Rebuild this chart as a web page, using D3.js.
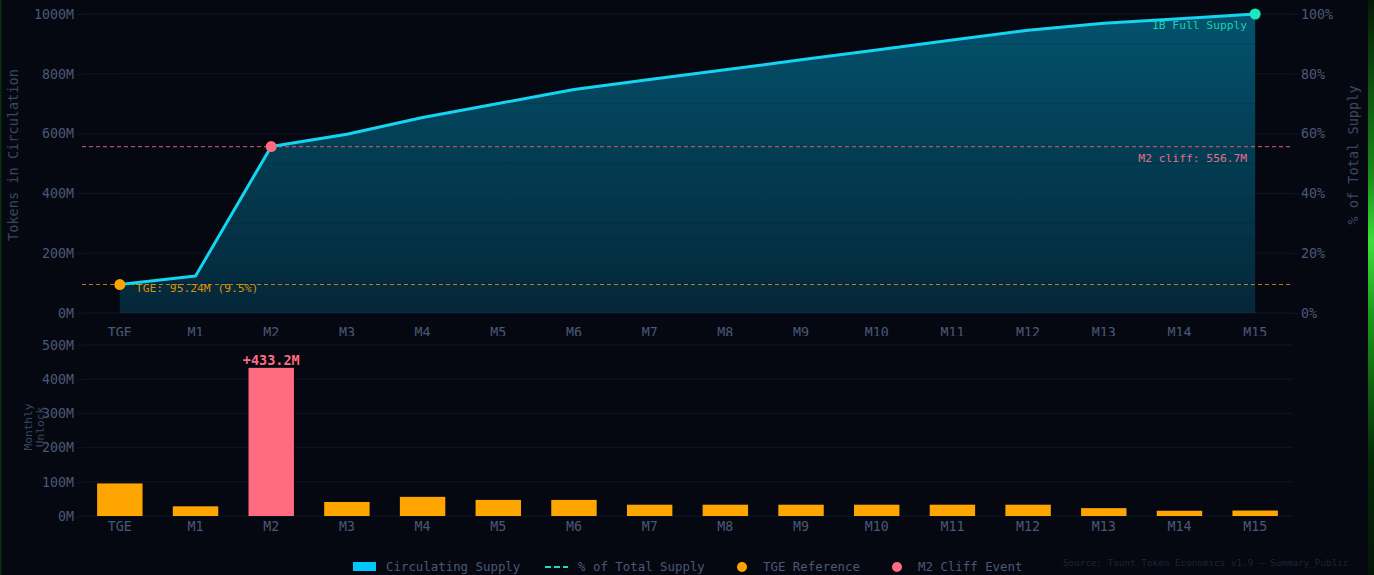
<!DOCTYPE html>
<html><head><meta charset="utf-8">
<script src="https://cdn.jsdelivr.net/npm/d3@7"></script>
<style>
html,body{margin:0;padding:0;background:#050810;overflow:hidden}
svg{display:block}
text{font-family:"DejaVu Sans Mono",monospace}
</style></head>
<body>
<svg id="c" width="1374" height="575"></svg>
<script>
const categories = ["TGE","M1","M2","M3","M4","M5","M6","M7","M8","M9","M10","M11","M12","M13","M14","M15"];
const circulating = [95.24,123.5,556.7,597.7,653.7,700.7,747.7,780.7,813.7,846.7,879.7,912.7,945.7,968.7,984,1000];
const monthlyUnlock = [95.24,28.3,433.2,41,56,47,47,33,33,33,33,33,33,23,15.3,16];
const topTicks = [0,200,400,600,800,1000];
const pctTicks = [0,20,40,60,80,100];
const bottomTicks = [0,100,200,300,400,500];
const totalSupply = 1000;
const tgeValue = 95.24;
const cliffValue = 556.7;

const svg = d3.select("#c");
const W=1374,H=575;
svg.append("rect").attr("width",W).attr("height",H).attr("fill","#050810");

const defs = svg.append("defs");
const ag = defs.append("linearGradient").attr("id","areaG").attr("x1",0).attr("y1",0).attr("x2",0).attr("y2",1);
ag.append("stop").attr("offset","0%").attr("stop-color","#00aee0").attr("stop-opacity",0.45);
ag.append("stop").attr("offset","100%").attr("stop-color","#0096c8").attr("stop-opacity",0.22);
const eg = defs.append("linearGradient").attr("id","edgeG").attr("x1",0).attr("y1",0).attr("x2",0).attr("y2",1);
eg.append("stop").attr("offset","0%").attr("stop-color","#041a06");
eg.append("stop").attr("offset","30%").attr("stop-color","#1a8a1a");
eg.append("stop").attr("offset","42%").attr("stop-color","#3be03b");
eg.append("stop").attr("offset","55%").attr("stop-color","#1a9a1a");
eg.append("stop").attr("offset","80%").attr("stop-color","#052a07");
eg.append("stop").attr("offset","100%").attr("stop-color","#031505");

const x0=82,x1=1293;
const x = d3.scaleBand().domain(categories).range([x0,x1]).paddingInner(0.4).paddingOuter(0.2);
const cx = d => x(d)+x.bandwidth()/2;
const yT = d3.scaleLinear().domain([0,1000]).range([313,14]);
const yP = d3.scaleLinear().domain([0,100]).range([313,14]);
const yB = d3.scaleLinear().domain([0,500]).range([516,345]);

const tickCol="#4a5878", gridCol="#0f1626";

// top grid
svg.append("g").selectAll("line").data(topTicks).join("line")
 .attr("x1",x0).attr("x2",x1).attr("y1",d=>yT(d)).attr("y2",d=>yT(d))
 .attr("stroke",gridCol).attr("stroke-width",1);

// area + line
const pts = categories.map((c,i)=>({c,v:circulating[i]}));
svg.append("path").datum(pts)
 .attr("d",d3.area().x(d=>cx(d.c)).y0(yT(0)).y1(d=>yT(d.v)))
 .attr("fill","url(#areaG)");
svg.append("g").selectAll("line").data([100,200,250,300,400,500,600,700,800,900]).join("line")
 .attr("x1",cx("TGE")).attr("x2",cx("M15")).attr("y1",d=>yT(d)).attr("y2",d=>yT(d))
 .attr("stroke","#000").attr("stroke-opacity",0.12);

// reference lines
svg.append("line").attr("x1",x0).attr("x2",x1).attr("y1",yT(tgeValue)).attr("y2",yT(tgeValue))
 .attr("stroke","#e8960a").attr("stroke-opacity",0.8).attr("stroke-dasharray","4,3").attr("stroke-width",1.2);
svg.append("line").attr("x1",x0).attr("x2",x1).attr("y1",yT(cliffValue)).attr("y2",yT(cliffValue))
 .attr("stroke","#e05a6e").attr("stroke-opacity",0.8).attr("stroke-dasharray","4,3").attr("stroke-width",1.2);

svg.append("path").datum(pts)
 .attr("d",d3.line().x(d=>cx(d.c)).y(d=>yT(d.v)))
 .attr("fill","none").attr("stroke","#14d4f0").attr("stroke-width",3).attr("stroke-linejoin","round");

svg.append("circle").attr("cx",cx("TGE")).attr("cy",yT(circulating[0])).attr("r",5.5).attr("fill","#ffa500");
svg.append("circle").attr("cx",cx("M2")).attr("cy",yT(circulating[2])).attr("r",5.5).attr("fill","#ff6b81");
svg.append("circle").attr("cx",cx("M15")).attr("cy",yT(circulating[15])).attr("r",5.5).attr("fill","#19e8c0");

// annotations
svg.append("text").attr("x",cx("TGE")+16).attr("y",yT(tgeValue)+7).attr("fill","#d9900a")
 .attr("font-size",11.3).text("TGE: 95.24M (9.5%)");
svg.append("text").attr("x",cx("M15")-8).attr("y",yT(cliffValue)+15).attr("text-anchor","end")
 .attr("fill","#e0708a").attr("font-size",11.3).text("M2 cliff: 556.7M");
svg.append("text").attr("x",cx("M15")-8).attr("y",yT(totalSupply)+15).attr("text-anchor","end")
 .attr("fill","#19d0b0").attr("font-size",11.3).text("1B Full Supply");

// top axes
const fmtM = d=>d+"M";
const axL = svg.append("g").attr("transform",`translate(${x0},0)`)
 .call(d3.axisLeft(yT).tickValues(topTicks).tickFormat(fmtM).tickSize(5).tickPadding(3));
const axR = svg.append("g").attr("transform",`translate(${x1},0)`)
 .call(d3.axisRight(yP).tickValues(pctTicks).tickFormat(d=>d+"%").tickSize(5).tickPadding(3));
const axTB = svg.append("g").attr("transform",`translate(0,313)`)
 .call(d3.axisBottom(x).tickSize(0).tickPadding(14.5));
[axL,axR,axTB].forEach(g=>{
 g.select(".domain").remove();
 g.selectAll("line").attr("stroke",gridCol);
 g.selectAll("text").attr("fill",tickCol).attr("font-size",13.3).attr("font-family","DejaVu Sans Mono");
});

svg.append("text").attr("transform","translate(18,155) rotate(-90)").attr("text-anchor","middle")
 .attr("fill","#3a4762").attr("font-size",13.6).text("Tokens in Circulation");
svg.append("text").attr("transform","translate(1358,155) rotate(-90)").attr("text-anchor","middle")
 .attr("fill","#3a4762").attr("font-size",13.6).text("% of Total Supply");

// bottom panel background (clips top x labels)
svg.append("rect").attr("x",0).attr("y",336).attr("width",W).attr("height",200).attr("fill","#050810");

svg.append("g").selectAll("line").data(bottomTicks).join("line")
 .attr("x1",x0).attr("x2",x1).attr("y1",d=>yB(d)).attr("y2",d=>yB(d))
 .attr("stroke",gridCol).attr("stroke-width",1);

svg.append("g").selectAll("rect").data(categories.map((c,i)=>({c,v:monthlyUnlock[i]}))).join("rect")
 .attr("x",d=>x(d.c)).attr("width",x.bandwidth())
 .attr("y",d=>yB(d.v)).attr("height",d=>yB(0)-yB(d.v))
 .attr("fill",d=>d.c==="M2"?"#ff6b81":"#ffa500");

svg.append("text").attr("x",cx("M2")).attr("y",yB(monthlyUnlock[2])-3).attr("text-anchor","middle")
 .attr("fill","#ff6b81").attr("font-size",13.5).attr("font-weight","bold").text("+433.2M");

const bL = svg.append("g").attr("transform",`translate(${x0},0)`)
 .call(d3.axisLeft(yB).tickValues(bottomTicks).tickFormat(fmtM).tickSize(5).tickPadding(3));
const bB = svg.append("g").attr("transform",`translate(0,516)`)
 .call(d3.axisBottom(x).tickSize(0).tickPadding(6));
[bL,bB].forEach(g=>{
 g.select(".domain").remove();
 g.selectAll("line").attr("stroke",gridCol);
 g.selectAll("text").attr("fill",tickCol).attr("font-size",13.3).attr("font-family","DejaVu Sans Mono");
});
const ut = svg.append("text").attr("transform","translate(32,427) rotate(-90)").attr("text-anchor","middle")
 .attr("fill","#3a4762").attr("font-size",11.2);
ut.append("tspan").attr("x",0).attr("dy",0).text("Monthly");
ut.append("tspan").attr("x",0).attr("dy",12).text("Unlock");

// legend
const lg = svg.append("g").attr("font-size",12.4);
lg.append("rect").attr("x",353).attr("y",562).attr("width",23).attr("height",9).attr("fill","#00c8ff");
lg.append("text").attr("x",386).attr("y",571).attr("fill",tickCol).text("Circulating Supply");
lg.append("line").attr("x1",545).attr("x2",568).attr("y1",567).attr("y2",567)
 .attr("stroke","#19e0c0").attr("stroke-width",2).attr("stroke-dasharray","6,3");
lg.append("text").attr("x",578).attr("y",571).attr("fill",tickCol).text("% of Total Supply");
lg.append("circle").attr("cx",742).attr("cy",567).attr("r",5).attr("fill","#ffa500");
lg.append("text").attr("x",763).attr("y",571).attr("fill",tickCol).text("TGE Reference");
lg.append("circle").attr("cx",897).attr("cy",567).attr("r",5).attr("fill","#ff6b81");
lg.append("text").attr("x",918).attr("y",571).attr("fill",tickCol).text("M2 Cliff Event");

svg.append("text").attr("x",1063).attr("y",566).attr("fill","#1c2538").attr("font-size",9.3)
 .text("Source: Taunt Token Economics v1.9 — Summary_Public");

// screen edges
svg.append("rect").attr("x",0).attr("y",0).attr("width",1.5).attr("height",H).attr("fill","#0b2e0d");
svg.append("rect").attr("x",1368).attr("y",0).attr("width",6).attr("height",H).attr("fill","url(#edgeG)");
</script>
</body></html>
